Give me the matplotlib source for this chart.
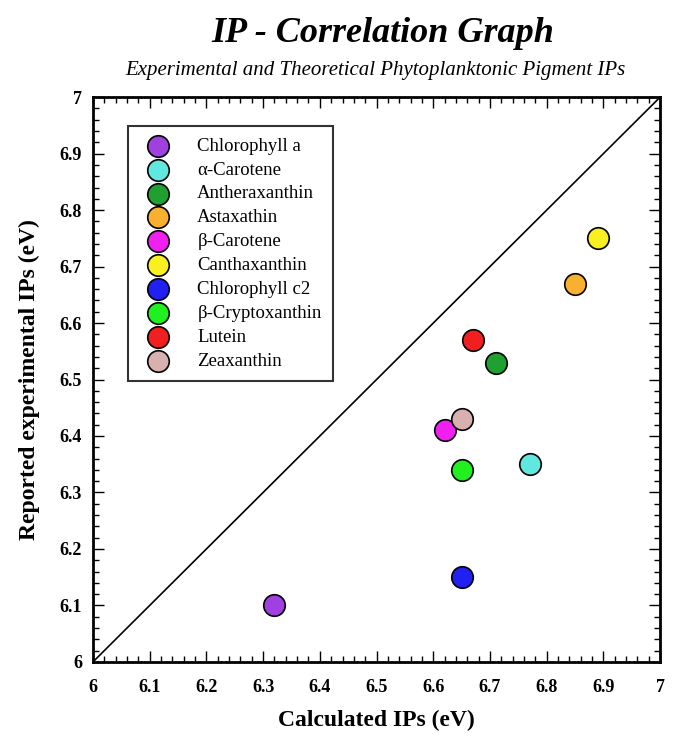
import numpy as np
import matplotlib
matplotlib.use("Agg")
import matplotlib.pyplot as plt
from matplotlib.ticker import MultipleLocator

plt.rcParams['font.family'] = ['Liberation Serif', 'DejaVu Serif']

pigments = ["Chlorophyll a", "α-Carotene", "Antheraxanthin", "Astaxathin",
            "β-Carotene", "Canthaxanthin", "Chlorophyll c2", "β-Cryptoxanthin",
            "Lutein", "Zeaxanthin"]
calc_ip = [6.32, 6.77, 6.71, 6.85, 6.62, 6.89, 6.65, 6.65, 6.67, 6.65]
exp_ip = [6.10, 6.35, 6.53, 6.67, 6.41, 6.75, 6.15, 6.34, 6.57, 6.43]
colors = ["#a040e0", "#60e8e0", "#20a030", "#f8b030", "#f020f0",
          "#f8f020", "#2020f0", "#20f020", "#f02020", "#d8b0b0"]
ticks = np.round(np.arange(6, 7.01, 0.1), 1)
tick_labels = [f"{v:g}" for v in ticks]

fig = plt.figure(figsize=(6.89, 7.42), dpi=100)
ax = fig.add_axes([0.135, 0.108, 0.823, 0.761])

ax.plot([6, 7], [6, 7], color="black", lw=1.2, zorder=1)
for name, x, y, c in zip(pigments, calc_ip, exp_ip, colors):
    ax.scatter(x, y, s=240, color=c, edgecolors="black", linewidths=1.2,
               label=name, zorder=3)

ax.set_xlim(6, 7)
ax.set_ylim(6, 7)
ax.set_xticks(ticks)
ax.set_yticks(ticks)
ax.set_xticklabels(tick_labels, fontsize=13, fontweight="bold")
ax.set_yticklabels(tick_labels, fontsize=13, fontweight="bold")
ax.xaxis.set_minor_locator(MultipleLocator(0.02))
ax.yaxis.set_minor_locator(MultipleLocator(0.02))
ax.tick_params(which="both", direction="in", top=True, right=True)
ax.tick_params(which="major", length=8, width=1)
ax.tick_params(which="minor", length=4, width=1)
ax.tick_params(axis="x", which="major", pad=12)
ax.tick_params(axis="y", which="major", pad=8)
for s in ax.spines.values():
    s.set_linewidth(2)

ax.set_xlabel("Calculated IPs (eV)", fontsize=17, fontweight="bold", labelpad=10)
ax.set_ylabel("Reported experimental IPs (eV)", fontsize=17, fontweight="bold", labelpad=14)

fig.text(0.555, 0.955, "IP - Correlation Graph", ha="center", va="center",
         fontsize=26, fontweight="bold", style="italic")
fig.text(0.545, 0.905, "Experimental and Theoretical Phytoplanktonic Pigment IPs",
         ha="center", va="center", fontsize=15, style="italic")

leg = ax.legend(loc="upper left", bbox_to_anchor=(0.045, 0.965), fontsize=13.5,
                frameon=True, fancybox=False, edgecolor="black",
                handletextpad=1.1, labelspacing=0.36, borderpad=0.6)
leg.get_frame().set_linewidth(1.5)

fig.savefig("out.png", dpi=100, facecolor="white")
